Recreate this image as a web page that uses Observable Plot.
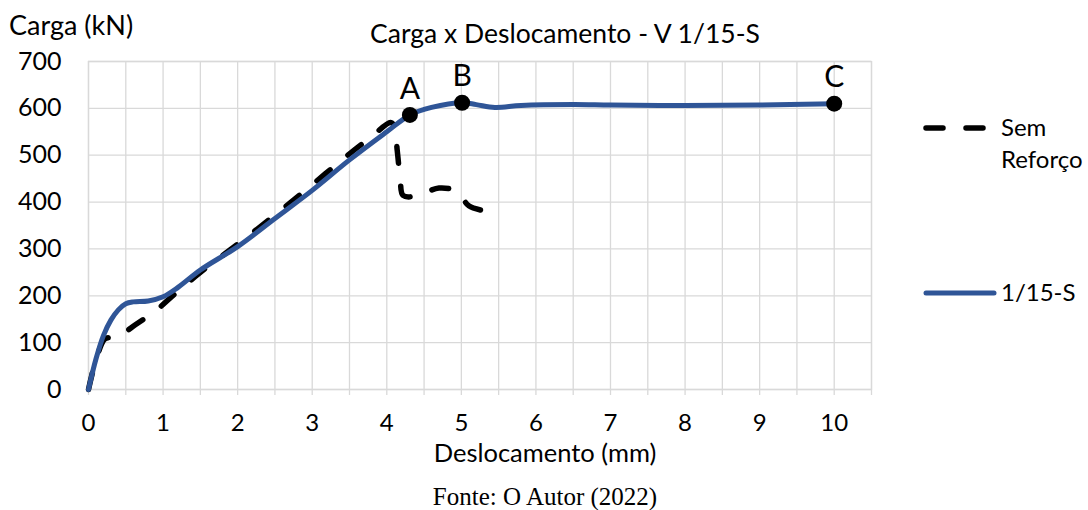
<!DOCTYPE html>
<html><head><meta charset="utf-8">
<script src="https://cdn.jsdelivr.net/npm/d3@7"></script>
<script src="https://cdn.jsdelivr.net/npm/@observablehq/plot@0.6"></script>
<style>
body{margin:0;background:#fff;}
#wrap{width:1088px;height:510px;}
</style></head><body>
<div id="wrap"></div>
<script>
// 1/15-S (reinforced) curve
const reforcoX = [0, 0.1, 0.2, 0.3, 0.4, 0.5, 0.6, 0.8, 1.0, 1.2, 1.5, 2.0, 2.5, 3.0, 3.5, 4.0, 4.31, 4.6, 5.01, 5.2, 5.45, 5.8, 6.5, 7.0, 8.0, 9.0, 10.0];
const reforcoY = [0, 65, 115, 148, 170, 183, 187, 189, 198, 218, 255, 305, 365, 425, 490, 550, 586, 602, 612, 608, 602, 606, 608, 607, 606, 607, 610];
// Sem Reforço (unreinforced) curve
const semX = [0, 0.1, 0.22, 0.3, 0.4, 0.6, 0.9, 1.15, 1.5, 2.0, 2.5, 3.0, 3.5, 3.8, 4.05, 4.1, 4.14, 4.18, 4.22, 4.4, 4.7, 4.95, 5.1, 5.35];
const semY = [0, 63, 108, 111, 113, 135, 168, 203, 250, 310, 372, 437, 503, 540, 570, 562, 510, 450, 414, 413, 430, 422, 392, 380];
// labelled points
const pointLabels = ["A", "B", "C"];
const pointX = [4.31, 5.01, 10];
const pointY = [586, 612, 610];
// ticks
const xTicks = d3.range(0, 11, 1);
const xMinor = d3.range(0, 10.51, 0.5);
const yTicks = d3.range(0, 701, 100);

const reforco = reforcoX.map((x, i) => ({x, y: reforcoY[i]}));
const sem = semX.map((x, i) => ({x, y: semY[i]}));
const points = pointLabels.map((t, i) => ({t, x: pointX[i], y: pointY[i]}));

const gridColor = "#d9d9d9";
const plot = Plot.plot({
  width: 1088, height: 510,
  marginLeft: 88, marginRight: 217, marginTop: 61, marginBottom: 121,
  style: {fontFamily: "Lato, sans-serif", color: "#000", background: "#fff"},
  x: {domain: [0, 10.5]},
  y: {domain: [0, 700]},
  marks: [
    Plot.gridX(xMinor, {stroke: gridColor, strokeOpacity: 1, strokeWidth: 1.3}),
    Plot.gridY(yTicks, {stroke: gridColor, strokeOpacity: 1, strokeWidth: 1.3}),
    Plot.frame({stroke: gridColor, strokeWidth: 1.3}),
    Plot.axisX({ticks: xMinor, tickSize: 6, tickFormat: () => "", stroke: gridColor, strokeWidth: 1.3, label: null}),
    Plot.axisX({ticks: xTicks, tickSize: 0, tickPadding: 24, fontSize: 24, label: null, tickFormat: d => d}),
    Plot.axisY({ticks: yTicks, tickSize: 0, tickPadding: 27, fontSize: 25, label: null, tickFormat: d => d}),
    Plot.line(sem, {x: "x", y: "y", stroke: "#000", strokeWidth: 5.5, strokeDasharray: "17,23", strokeLinecap: "round", curve: "catmull-rom"}),
    Plot.line(reforco, {x: "x", y: "y", stroke: "#2f5597", strokeWidth: 5, curve: "catmull-rom"}),
    Plot.dot(points, {x: "x", y: "y", r: 8, fill: "#000", stroke: "none"}),
    Plot.text(points, {x: "x", y: "y", text: "t", dy: -26, fontSize: 30, fill: "#000"})
  ]
});
document.getElementById("wrap").appendChild(plot);

const svg = d3.select(plot);
function addText(str, x, y, opts = {}) {
  svg.append("text").attr("x", x).attr("y", y)
    .attr("text-anchor", opts.anchor || "start")
    .attr("font-size", opts.size || 25)
    .attr("font-family", opts.family || "Lato, sans-serif")
    .attr("fill", "#000")
    .text(str);
}
addText("Carga (kN)", 9, 35, {size: 27});
addText("Carga x Deslocamento - V 1/15-S", 565, 43, {anchor: "middle", size: 26.5});
addText("Deslocamento (mm)", 545, 462, {anchor: "middle", size: 25.5});
addText("Fonte: O Autor (2022)", 545, 505, {anchor: "middle", size: 25, family: "'Liberation Serif', 'Times New Roman', serif"});
// legend
const lg = svg.append("g");
lg.append("line").attr("x1", 926).attr("x2", 993).attr("y1", 128).attr("y2", 128)
  .attr("stroke", "#000").attr("stroke-width", 5.5).attr("stroke-dasharray", "17,23").attr("stroke-linecap", "round");
lg.append("line").attr("x1", 926).attr("x2", 994).attr("y1", 293).attr("y2", 293)
  .attr("stroke", "#2f5597").attr("stroke-width", 5).attr("stroke-linecap", "round");
addText("Sem", 1001, 136, {size: 24});
addText("Reforço", 1001, 168, {size: 24});
addText("1/15-S", 1001, 301, {size: 24});
</script>
</body></html>
